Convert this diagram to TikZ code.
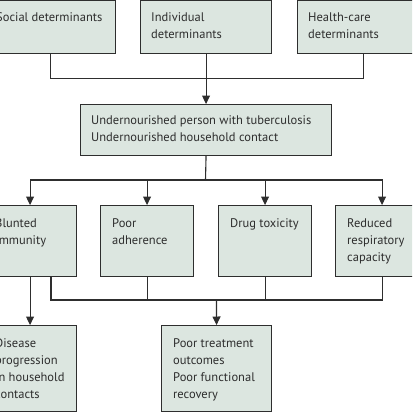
\documentclass[tikz,border=0pt]{standalone}
\usepackage{fontspec}
\setmainfont{PT Sans}
\usetikzlibrary{arrows.meta}
\definecolor{boxfill}{HTML}{DCE6E0}
\definecolor{ink}{HTML}{2E2E2E}
\newcommand\mlines[1]{\begin{tabular}[t]{@{}l@{}}#1\end{tabular}}
\tikzset{
  box/.style={draw=ink, fill=boxfill, line width=1.1pt, inner sep=0pt, anchor=north west},
  lbl/.style={anchor=base west, inner sep=0pt, text=ink, font=\fontsize{12.5}{17}\selectfont},
  link/.style={draw=ink, line width=1.1pt},
  arr/.style={link, -{Triangle[width=8pt,length=8.5pt]}}
}
\begin{document}
\begin{tikzpicture}[x=1pt,y=-1pt]
\useasboundingbox (0,0) rectangle (412,412);
\clip (0,0) rectangle (412,412);
% top row
\node[box, minimum width=131pt, minimum height=53pt] (soc) at (-16,0) {};
\node[box, minimum width=131pt, minimum height=53pt] (ind) at (140,0) {};
\node[box, minimum width=131pt, minimum height=53pt] (hc) at (297,0) {};
\node[lbl] (tsoc) at (-4,22) {\mlines{Social determinants}};
\node[lbl] (tind) at (151,22) {\mlines{Individual\\determinants}};
\node[lbl] (thc) at (308,22) {\mlines{Health-care\\determinants}};
% middle
\node[box, minimum width=251pt, minimum height=51pt] (mid) at (80,104) {};
\node[lbl] (tmid) at (91,124) {\mlines{Undernourished person with tuberculosis\\Undernourished household contact}};
% second row
\node[box, minimum width=93pt, minimum height=71pt] (blu) at (-17,205) {};
\node[box, minimum width=93pt, minimum height=71pt] (adh) at (100,205) {};
\node[box, minimum width=93pt, minimum height=71pt] (drug) at (218,205) {};
\node[box, minimum width=93pt, minimum height=71pt] (resp) at (335,205) {};
\node[lbl] (tblu) at (-5,227) {\mlines{Blunted\\Immunity}};
\node[lbl] (tadh) at (112,227) {\mlines{Poor\\adherence}};
\node[lbl] (tdrug) at (230,227) {\mlines{Drug toxicity}};
\node[lbl] (tresp) at (347,227) {\mlines{Reduced\\respiratory\\capacity}};
% bottom row
\node[box, minimum width=93pt, minimum height=86pt] (dis) at (-17,325) {};
\node[box, minimum width=110pt, minimum height=86pt] (out) at (161,325) {};
\node[lbl] (tdis) at (-5,347) {\mlines{Disease\\progression\\in household\\contacts}};
\node[lbl] (tout) at (173,347) {\mlines{Poor treatment\\outcomes\\Poor functional\\recovery}};
% connectors top
\coordinate (j1) at (205.5,78.5);
\draw[link] (soc.south) |- (j1) -| (hc.south);
\draw[arr] (ind.south) -- (mid.north);
% connectors middle
\coordinate (j2) at (205.5,180);
\draw[link] (mid.south) -- (j2);
\draw[arr] (j2) -| (blu.north);
\draw[arr] (j2) -| (adh.north);
\draw[arr] (j2) -| (drug.north);
\draw[arr] (j2) -| (resp.north);
% connectors lower
\coordinate (b1) at (51,276);
\coordinate (j3) at (216.5,300);
\draw[arr] (blu.south) -- (dis.north);
\draw[link] (b1) |- (j3) -| (resp.south);
\draw[link] (adh.south) -- (adh.south |- j3);
\draw[link] (drug.south) -- (drug.south |- j3);
\draw[arr] (j3) -- (out.north);
\end{tikzpicture}
\end{document}
